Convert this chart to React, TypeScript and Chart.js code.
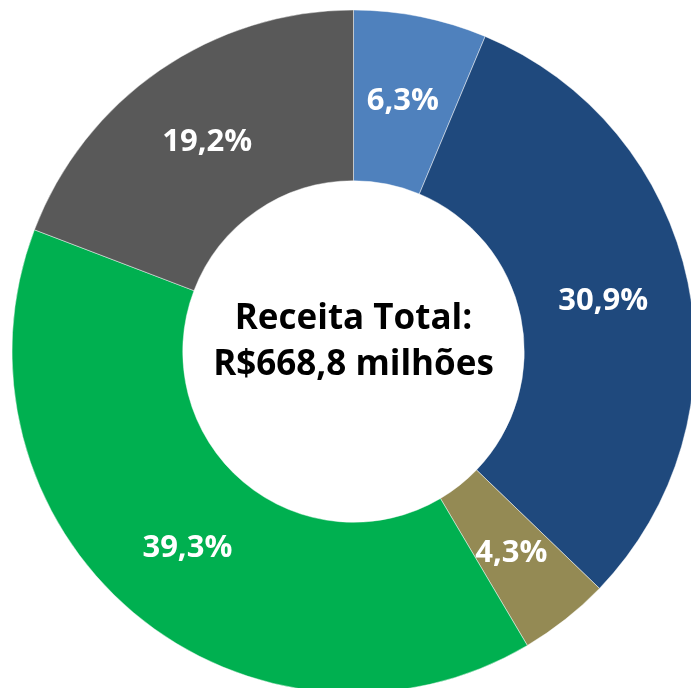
import React, { useEffect, useRef } from "react";
import { Chart, registerables } from "chart.js";

Chart.register(...registerables);

const categories = ["Segmento A", "Segmento B", "Segmento C", "Segmento D", "Segmento E"];
const shares = [6.3, 30.9, 4.3, 39.3, 19.2];
const percentLabels = ["6,3%", "30,9%", "4,3%", "39,3%", "19,2%"];
const colors = ["#4F81BD", "#1F497D", "#948A54", "#00B050", "#595959"];
const centerLines = ["Receita Total:", "R$668,8 milhões"];

const FONT = "'Open Sans', 'Noto Sans', sans-serif";

const labelPlugin = {
  id: "sliceLabels",
  afterDatasetsDraw(chart: any) {
    const ctx = chart.ctx;
    const meta = chart.getDatasetMeta(0);
    ctx.save();
    ctx.fillStyle = "#FFFFFF";
    ctx.font = `bold 31px ${FONT}`;
    ctx.textAlign = "center";
    ctx.textBaseline = "alphabetic";
    meta.data.forEach((arc: any, i: number) => {
      const p = arc.tooltipPosition();
      ctx.fillText(percentLabels[i], p.x - 1, p.y + 10);
    });
    const first = meta.data[0];
    const cx = first.x;
    const cy = first.y;
    ctx.fillStyle = "#000000";
    ctx.font = `bold 35px ${FONT}`;
    ctx.fillText(centerLines[0], cx, cy - 23);
    ctx.fillText(centerLines[1], cx, cy + 23);
    ctx.restore();
  },
};

export default function App() {
  const ref = useRef<HTMLCanvasElement | null>(null);
  useEffect(() => {
    document.body.style.margin = "0";
    document.body.style.overflow = "hidden";
    if (!ref.current) return;
    const chart = new Chart(ref.current, {
      type: "doughnut",
      data: {
        labels: categories,
        datasets: [
          {
            data: shares,
            backgroundColor: colors,
            borderColor: "rgba(255,255,255,0.45)",
            borderWidth: 1,
          },
        ],
      },
      options: {
        responsive: false,
        animation: false,
        radius: 341.5,
        cutout: "50%",
        layout: { padding: 0 },
        plugins: {
          legend: { display: false },
          tooltip: { enabled: false },
        },
      },
      plugins: [labelPlugin],
    });
    return () => chart.destroy();
  }, []);
  return (
    <div style={{ position: "relative", width: 691, height: 688, overflow: "hidden", background: "#fff" }}>
      <canvas
        ref={ref}
        width={707}
        height={703}
        style={{ position: "absolute", left: 0, top: 0, width: 707, height: 703 }}
      />
    </div>
  );
}
